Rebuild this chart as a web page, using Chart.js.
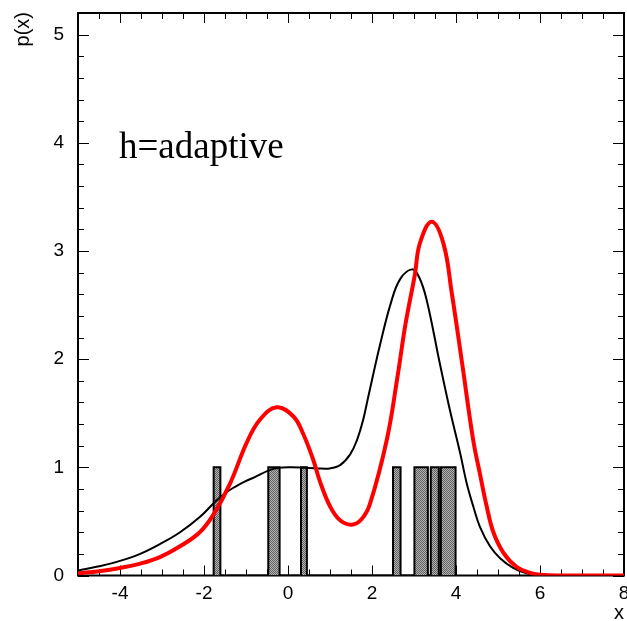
<!DOCTYPE html>
<html>
<head>
<meta charset="utf-8">
<script src="https://cdn.jsdelivr.net/npm/chart.js@4.4.1/dist/chart.umd.min.js"></script>
<style>
  html, body { margin: 0; padding: 0; background: #fff; }
  #c { display: block; }
</style>
</head>
<body>
<canvas id="c" width="627" height="621"></canvas>
<script>
// tick labels
var xTicks = [-4, -2, 0, 2, 4, 6, 8];
var yTicks = [0, 1, 2, 3, 4, 5];

// sample histogram (one entry per filled bin)
var barLeft = [-1.77, -0.47, 0.31, 2.50, 3.01, 3.40, 3.64];
var barRight = [-1.61, -0.20, 0.45, 2.68, 3.33, 3.59, 3.99];
var barHeight = [1, 1, 1, 1, 1, 1, 1];

// black curve
var blackX = [-5, -4.5, -4, -3.52, -3.05, -2.57, -2.10, -1.74, -1.5, -1.26, -1.02, -0.79, -0.47, -0.23, 0.09, 0.40,
  0.7, 1.0, 1.24, 1.48, 1.64, 1.79, 1.91, 2.19, 2.45, 2.67, 2.95, 3.12, 3.30, 3.62, 3.86, 4.10, 4.25, 4.41, 4.57, 4.81,
  5.05, 5.36, 5.68, 6.0, 6.5, 7, 8];
var blackY = [0.045, 0.085, 0.135, 0.20, 0.29, 0.40, 0.54, 0.68, 0.76, 0.82, 0.87, 0.91, 0.97, 0.995, 1.0, 0.995,
  0.99, 0.99, 1.02, 1.12, 1.25, 1.44, 1.65, 2.13, 2.52, 2.74, 2.83, 2.76, 2.55, 1.95, 1.52, 1.13, 0.86, 0.64, 0.45, 0.27,
  0.16, 0.07, 0.02, 0.005, 0, 0, 0];

// red curve
var redX = [-5, -4.5, -4, -3.52, -3.05, -2.57, -2.10, -1.78, -1.38, -0.98, -0.67, -0.27, 0.13, 0.36, 0.60, 0.76, 1.0,
  1.24, 1.52, 1.75, 1.95, 2.35, 2.6, 2.8, 3.02, 3.14, 3.42, 3.70, 3.90, 4.15, 4.41, 4.57, 4.73, 4.89, 5.13, 5.44, 5.76,
  6.0, 6.5, 7, 8];
var redY = [0.02, 0.04, 0.07, 0.11, 0.17, 0.27, 0.40, 0.56, 0.85, 1.23, 1.44, 1.555, 1.47, 1.31, 1.07, 0.87, 0.64,
  0.51, 0.47, 0.52, 0.66, 1.25, 1.82, 2.33, 2.78, 3.07, 3.27, 3.07, 2.61, 1.95, 1.25, 0.94, 0.64, 0.40, 0.21, 0.08, 0.025,
  0.008, 0, 0, 0];

function toPoints(xs, ys) {
  return xs.map(function (x, i) { return { x: x, y: ys[i] }; });
}

function barOutline() {
  var pts = [];
  for (var i = 0; i < barLeft.length; i += 1) {
    pts.push({ x: barLeft[i], y: 0 });
    pts.push({ x: barLeft[i], y: barHeight[i] });
    pts.push({ x: barRight[i], y: barHeight[i] });
    pts.push({ x: barRight[i], y: 0 });
  }
  return pts;
}

function ditherPattern(ctx) {
  var pc = document.createElement('canvas');
  pc.width = 2;
  pc.height = 2;
  var p = pc.getContext('2d');
  p.fillStyle = '#b4b4b4';
  p.fillRect(0, 0, 2, 2);
  p.fillStyle = '#606060';
  p.fillRect(0, 0, 1, 1);
  p.fillRect(1, 1, 1, 1);
  return ctx.createPattern(pc, 'repeat');
}

var X_MINOR = 0.5;
var Y_MINOR = 0.2;

var framePlugin = {
  id: 'frame',
  beforeDatasetsDraw: function (chart) {
    var ctx = chart.ctx;
    var a = chart.chartArea;
    var xs = chart.scales.x;
    var ys = chart.scales.y;
    ctx.save();
    ctx.strokeStyle = '#000';
    ctx.lineWidth = 2;
    ctx.strokeRect(a.left, a.top, a.right - a.left, a.bottom - a.top);
    ctx.lineWidth = 1;
    ctx.beginPath();
    for (var v = xs.min; v <= xs.max + 1e-9; v += X_MINOR) {
      var px = Math.round(xs.getPixelForValue(v)) + 0.5;
      var major = Math.abs(v / 2 - Math.round(v / 2)) < 1e-6;
      var len = major ? 10 : 6;
      ctx.moveTo(px, a.bottom);
      ctx.lineTo(px, a.bottom - len);
      ctx.moveTo(px, a.top);
      ctx.lineTo(px, a.top + len);
    }
    for (var w = ys.min; w <= ys.max + 1e-9; w += Y_MINOR) {
      var py = Math.round(ys.getPixelForValue(w)) + 0.5;
      var majorY = Math.abs(w - Math.round(w)) < 1e-6;
      var lenY = majorY ? 11 : 6;
      ctx.moveTo(a.left, py);
      ctx.lineTo(a.left + lenY, py);
      ctx.moveTo(a.right, py);
      ctx.lineTo(a.right - lenY, py);
    }
    ctx.stroke();
    ctx.restore();
  },
  afterDraw: function (chart) {
    var ctx = chart.ctx;
    ctx.save();
    ctx.fillStyle = '#000';
    ctx.font = '20px "Liberation Sans", Arial, sans-serif';
    ctx.textAlign = 'right';
    ctx.textBaseline = 'middle';
    ctx.translate(23, 12);
    ctx.rotate(-Math.PI / 2);
    ctx.fillText('p(x)', 0, 0);
    ctx.restore();

    ctx.save();
    ctx.fillStyle = '#000';
    ctx.font = '20px "Liberation Sans", Arial, sans-serif';
    ctx.textAlign = 'right';
    ctx.textBaseline = 'alphabetic';
    ctx.fillText('x', 624, 619);
    ctx.font = '37px "Liberation Serif", "Times New Roman", serif';
    ctx.textAlign = 'left';
    ctx.fillText('h=adaptive', 119, 158);
    ctx.restore();
  }
};

var canvas = document.getElementById('c');
var ctx = canvas.getContext('2d');
var tickFont = { family: '"Liberation Sans", Arial, sans-serif', size: 19 };

new Chart(ctx, {
  type: 'line',
  data: {
    datasets: [
      {
        label: 'kde',
        data: toPoints(redX, redY),
        borderColor: '#ff0000',
        borderWidth: 4,
        pointRadius: 0,
        tension: 0.4,
        fill: false,
      },
      {
        label: 'true',
        data: toPoints(blackX, blackY),
        borderColor: '#000000',
        borderWidth: 2,
        pointRadius: 0,
        tension: 0.4,
        fill: false,
      },
      {
        label: 'sample',
        data: barOutline(),
        borderColor: '#000000',
        borderWidth: 2,
        backgroundColor: ditherPattern(ctx),
        pointRadius: 0,
        tension: 0,
        fill: 'origin',
      },
    ],
  },
  options: {
    responsive: false,
    devicePixelRatio: 1,
    animation: false,
    events: [],
    layout: { padding: { left: 0, right: 3, top: 13, bottom: 0 } },
    plugins: { legend: { display: false }, tooltip: { enabled: false } },
    scales: {
      x: {
        type: 'linear',
        min: -5,
        max: 8,
        grid: { display: false, drawTicks: false },
        border: { display: false },
        ticks: { color: '#000', font: tickFont, padding: 7, maxRotation: 0, autoSkip: false },
        afterBuildTicks: function (s) { s.ticks = xTicks.map(function (v) { return { value: v }; }); },
        afterFit: function (s) { s.height = 45.5; s.paddingLeft = 0; s.paddingRight = 0; },
      },
      y: {
        type: 'linear',
        min: 0,
        max: 5.2,
        grid: { display: false, drawTicks: false },
        border: { display: false },
        ticks: { color: '#000', font: tickFont, padding: 14 },
        afterBuildTicks: function (s) { s.ticks = yTicks.map(function (v) { return { value: v }; }); },
        afterFit: function (s) { s.width = 78; s.paddingTop = 0; s.paddingBottom = 0; },
      },
    },
  },
  plugins: [framePlugin],
});
</script>
</body>
</html>
